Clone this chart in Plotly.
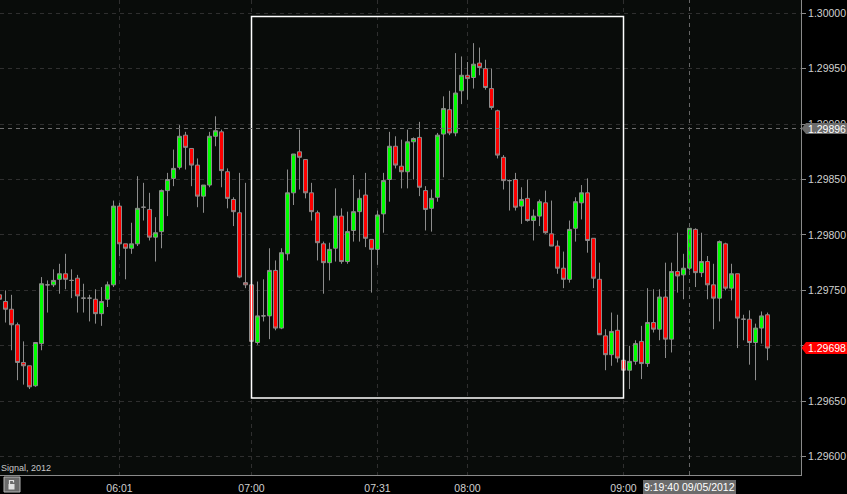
import plotly.graph_objects as go

# ---------------- data ----------------
opens = [1.29746, 1.29740, 1.29733, 1.29719, 1.29685, 1.29682, 1.29664, 1.29702, 1.29755, 1.29755,
         1.29760, 1.29765, 1.29759, 1.29761, 1.29743, 1.29743, 1.29742, 1.29729, 1.29742, 1.29755,
         1.29826, 1.29792, 1.29788, 1.29792, 1.29825, 1.29823, 1.29798, 1.29803, 1.29840, 1.29851,
         1.29861, 1.29890, 1.29878, 1.29863, 1.29835, 1.29845, 1.29889, 1.29893, 1.29857, 1.29832,
         1.29820, 1.29757, 1.29755, 1.29703, 1.29727, 1.29727, 1.29768, 1.29716, 1.29783, 1.29838,
         1.29875, 1.29868, 1.29838, 1.29820, 1.29792, 1.29775, 1.29788, 1.29817, 1.29776, 1.29804,
         1.29821, 1.29836, 1.29796, 1.29787, 1.29819, 1.29850, 1.29880, 1.29862, 1.29857, 1.29884,
         1.29888, 1.29840, 1.29824, 1.29834, 1.29891, 1.29913, 1.29892, 1.29930, 1.29944, 1.29942,
         1.29955, 1.29950, 1.29932, 1.29912, 1.29870, 1.29849, 1.29850, 1.29826, 1.29833, 1.29813,
         1.29817, 1.29829, 1.29801, 1.29790, 1.29770, 1.29760, 1.29806, 1.29829, 1.29838, 1.29797,
         1.29760, 1.29709, 1.29692, 1.29714, 1.29687, 1.29678, 1.29686, 1.29704, 1.29684, 1.29721,
         1.29715, 1.29744, 1.29706, 1.29767, 1.29764, 1.29770, 1.29805, 1.29766, 1.29776, 1.29755,
         1.29743, 1.29792, 1.29752, 1.29765, 1.29724, 1.29724, 1.29703, 1.29716, 1.29728]

highs = [1.29749, 1.29750, 1.29746, 1.29721, 1.29704, 1.29682, 1.29703, 1.29762, 1.29759, 1.29769,
         1.29774, 1.29783, 1.29769, 1.29764, 1.29756, 1.29746, 1.29751, 1.29753, 1.29758, 1.29831,
         1.29829, 1.29792, 1.29811, 1.29853, 1.29847, 1.29838, 1.29816, 1.29841, 1.29856, 1.29877,
         1.29899, 1.29893, 1.29878, 1.29869, 1.29845, 1.29893, 1.29907, 1.29895, 1.29860, 1.29834,
         1.29856, 1.29847, 1.29758, 1.29758, 1.29760, 1.29788, 1.29777, 1.29788, 1.29859, 1.29873,
         1.29895, 1.29868, 1.29847, 1.29822, 1.29794, 1.29793, 1.29842, 1.29824, 1.29821, 1.29854,
         1.29841, 1.29856, 1.29796, 1.29822, 1.29856, 1.29893, 1.29889, 1.29886, 1.29895, 1.29888,
         1.29902, 1.29844, 1.29841, 1.29892, 1.29925, 1.29930, 1.29964, 1.29961, 1.29956, 1.29973,
         1.29969, 1.29958, 1.29950, 1.29913, 1.29872, 1.29850, 1.29856, 1.29843, 1.29850, 1.29823,
         1.29832, 1.29840, 1.29831, 1.29795, 1.29785, 1.29813, 1.29834, 1.29845, 1.29851, 1.29797,
         1.29775, 1.29715, 1.29730, 1.29728, 1.29703, 1.29700, 1.29705, 1.29718, 1.29752, 1.29751,
         1.29751, 1.29775, 1.29775, 1.29802, 1.29783, 1.29806, 1.29806, 1.29802, 1.29781, 1.29774,
         1.29795, 1.29793, 1.29774, 1.29765, 1.29728, 1.29732, 1.29720, 1.29731, 1.29730]

lows = [1.29740, 1.29721, 1.29696, 1.29669, 1.29665, 1.29661, 1.29663, 1.29696, 1.29730, 1.29753,
        1.29747, 1.29751, 1.29743, 1.29730, 1.29730, 1.29722, 1.29720, 1.29718, 1.29735, 1.29753,
        1.29781, 1.29760, 1.29783, 1.29790, 1.29813, 1.29795, 1.29776, 1.29788, 1.29817, 1.29844,
        1.29859, 1.29859, 1.29844, 1.29825, 1.29820, 1.29843, 1.29880, 1.29843, 1.29824, 1.29808,
        1.29761, 1.29752, 1.29702, 1.29701, 1.29722, 1.29706, 1.29714, 1.29715, 1.29777, 1.29827,
        1.29841, 1.29833, 1.29813, 1.29777, 1.29747, 1.29759, 1.29776, 1.29774, 1.29774, 1.29794,
        1.29794, 1.29789, 1.29748, 1.29773, 1.29802, 1.29830, 1.29860, 1.29842, 1.29842, 1.29850,
        1.29835, 1.29804, 1.29803, 1.29830, 1.29852, 1.29890, 1.29889, 1.29918, 1.29922, 1.29932,
        1.29944, 1.29931, 1.29913, 1.29869, 1.29841, 1.29822, 1.29822, 1.29810, 1.29812, 1.29795,
        1.29808, 1.29801, 1.29790, 1.29765, 1.29752, 1.29757, 1.29794, 1.29814, 1.29784, 1.29752,
        1.29710, 1.29678, 1.29682, 1.29685, 1.29663, 1.29661, 1.29683, 1.29670, 1.29681, 1.29712,
        1.29705, 1.29689, 1.29694, 1.29748, 1.29742, 1.29768, 1.29753, 1.29762, 1.29742, 1.29715,
        1.29722, 1.29750, 1.29741, 1.29698, 1.29705, 1.29683, 1.29669, 1.29702, 1.29687]

closes = [1.29742, 1.29733, 1.29719, 1.29685, 1.29682, 1.29663, 1.29703, 1.29756, 1.29755, 1.29759,
          1.29765, 1.29760, 1.29759, 1.29745, 1.29743, 1.29743, 1.29729, 1.29740, 1.29755, 1.29826,
          1.29792, 1.29788, 1.29792, 1.29824, 1.29825, 1.29798, 1.29802, 1.29840, 1.29850, 1.29860,
          1.29889, 1.29879, 1.29863, 1.29835, 1.29845, 1.29889, 1.29894, 1.29858, 1.29833, 1.29821,
          1.29762, 1.29755, 1.29704, 1.29727, 1.29727, 1.29768, 1.29716, 1.29784, 1.29838, 1.29873,
          1.29870, 1.29838, 1.29821, 1.29793, 1.29775, 1.29787, 1.29817, 1.29776, 1.29803, 1.29821,
          1.29833, 1.29797, 1.29787, 1.29818, 1.29849, 1.29880, 1.29863, 1.29857, 1.29884, 1.29887,
          1.29843, 1.29823, 1.29833, 1.29890, 1.29914, 1.29892, 1.29928, 1.29944, 1.29941, 1.29954,
          1.29951, 1.29933, 1.29915, 1.29872, 1.29849, 1.29849, 1.29825, 1.29832, 1.29813, 1.29817,
          1.29830, 1.29802, 1.29790, 1.29770, 1.29760, 1.29805, 1.29830, 1.29838, 1.29795, 1.29761,
          1.29710, 1.29692, 1.29713, 1.29689, 1.29678, 1.29686, 1.29702, 1.29684, 1.29721, 1.29715,
          1.29744, 1.29706, 1.29767, 1.29763, 1.29770, 1.29806, 1.29766, 1.29776, 1.29755, 1.29743,
          1.29794, 1.29752, 1.29765, 1.29725, 1.29724, 1.29703, 1.29716, 1.29727, 1.29698]

bar_index = list(range(len(opens)))

time_tick_bars = [20, 42, 63, 78, 104]
time_tick_labels = ["06:01", "07:00", "07:31", "08:00", "09:00"]

price_ticks = [1.29600, 1.29650, 1.29700, 1.29750, 1.29800, 1.29850, 1.29900, 1.29950, 1.30000]

crosshair_bar = 115
crosshair_price = 1.29896
crosshair_time = "9:19:40 09/05/2012"
last_price = 1.29698

box_first_bar, box_last_bar = 42, 104
box_low, box_high = 1.29653, 1.29997

signal_text = "Signal, 2012"

# ---------------- layout geometry ----------------
W, H = 847, 494
PW, PH = 801, 475          # plot area in px
Y_MIN, Y_MAX = 1.295835, 1.300119
X_MIN = 0.5 / 6
X_MAX = X_MIN + PW / 6.0


def xp(px):
    return px / PW


def yp(py):
    return 1 - py / PH


def price_py(p):
    return (Y_MAX - p) / (Y_MAX - Y_MIN) * PH


FONT = "Liberation Sans, Arial, sans-serif"

fig = go.Figure()
fig.add_trace(go.Candlestick(
    x=bar_index, open=opens, high=highs, low=lows, close=closes,
    increasing=dict(line=dict(color="#8c8c8c", width=1), fillcolor="#00ff00"),
    decreasing=dict(line=dict(color="#8c8c8c", width=1), fillcolor="#ff0000"),
    whiskerwidth=0, hoverinfo="skip", showlegend=False,
))

shapes = []
# white selection rectangle
shapes.append(dict(type="rect", xref="x", yref="y", x0=box_first_bar, x1=box_last_bar,
                   y0=box_low, y1=box_high, line=dict(color="#ffffff", width=1.5),
                   fillcolor="rgba(0,0,0,0)", layer="above"))
# crosshair
shapes.append(dict(type="line", xref="paper", yref="y", x0=0, x1=1, y0=crosshair_price,
                   y1=crosshair_price, line=dict(color="#6e6e6e", width=1, dash="4px,4px"),
                   layer="above"))
shapes.append(dict(type="line", xref="x", yref="paper", x0=crosshair_bar, x1=crosshair_bar,
                   y0=0, y1=1, line=dict(color="#666666", width=1, dash="4px,4px"),
                   layer="above"))


def price_label(price, fill, half=6):
    py = price_py(price)
    path = "M {a},{c} L {b},{t} L {r},{t} L {r},{bt} L {b},{bt} Z".format(
        a=xp(801.5), b=xp(806), r=xp(847), c=yp(py), t=yp(py - half), bt=yp(py + half))
    shapes.append(dict(type="path", xref="paper", yref="paper", path=path,
                       fillcolor=fill, line=dict(width=0), layer="above"))
    return dict(x=xp(826.5), y=yp(py), xref="paper", yref="paper", text="{:.5f}".format(price),
                showarrow=False, xanchor="center", yanchor="middle",
                font=dict(family=FONT, size=10.5, color="#ffffff"))


annotations = []
annotations.append(price_label(crosshair_price, "#6b6b6b", 5.5))
annotations.append(price_label(last_price, "#ff0000", 6))

# crosshair time label
annotations.append(dict(x=xp(689), y=yp(486.5), xref="paper", yref="paper", text=crosshair_time,
                        showarrow=False, xanchor="center", yanchor="middle", bgcolor="#6b6b6b",
                        borderpad=1, borderwidth=0,
                        font=dict(family=FONT, size=10.5, color="#ffffff")))
# signal caption
annotations.append(dict(x=xp(-1), y=yp(467.5), xref="paper", yref="paper", text=signal_text,
                        showarrow=False, xanchor="left", yanchor="middle",
                        font=dict(family=FONT, size=9, color="#c8c8c8")))

# lock icon
shapes.append(dict(type="rect", xref="paper", yref="paper", x0=xp(4), x1=xp(20), y0=yp(477),
                   y1=yp(492), fillcolor="#6a6a6a", line=dict(color="#b4b4b4", width=1)))
shapes.append(dict(type="rect", xref="paper", yref="paper", x0=xp(8.5), x1=xp(14.5), y0=yp(484),
                   y1=yp(489.5), fillcolor="#e0e0e0", line=dict(width=0)))
shapes.append(dict(type="path", xref="paper", yref="paper",
                   path="M {a},{b} L {a},{c} L {d},{c} L {d},{e}".format(
                       a=xp(9.5), b=yp(484), c=yp(480.5), d=xp(13.5), e=yp(482.5)),
                   line=dict(color="#e0e0e0", width=1.2)))

fig.update_layout(
    width=W, height=H,
    margin=dict(l=0, r=W - PW, t=0, b=H - PH, pad=0),
    paper_bgcolor="#000000", plot_bgcolor="#090c0a",
    font=dict(family=FONT, size=10.5, color="#d0d0d0"),
    showlegend=False, boxgap=1 / 3, boxgroupgap=0,
    shapes=shapes, annotations=annotations,
    xaxis=dict(range=[X_MIN, X_MAX], tickvals=time_tick_bars, ticktext=time_tick_labels,
               showgrid=True, gridcolor="#2f2f2f", griddash="4px,4px", gridwidth=1,
               zeroline=False, showline=True, linecolor="#8a8a8a", linewidth=1,
               ticks="outside", ticklen=3, tickcolor="#000000",
               rangeslider=dict(visible=False), fixedrange=True),
    yaxis=dict(range=[Y_MIN, Y_MAX], side="right", tickvals=price_ticks, tickformat=".5f",
               showgrid=True, gridcolor="#2f2f2f", griddash="4px,4px", gridwidth=1,
               zeroline=False, showline=True, linecolor="#8a8a8a", linewidth=1,
               ticks="outside", ticklen=4, tickcolor="#8a8a8a", fixedrange=True),
)

fig.write_html("out.html", config={"displayModeBar": False},
               post_script="document.body.style.margin='0';document.body.style.overflow='hidden';")
